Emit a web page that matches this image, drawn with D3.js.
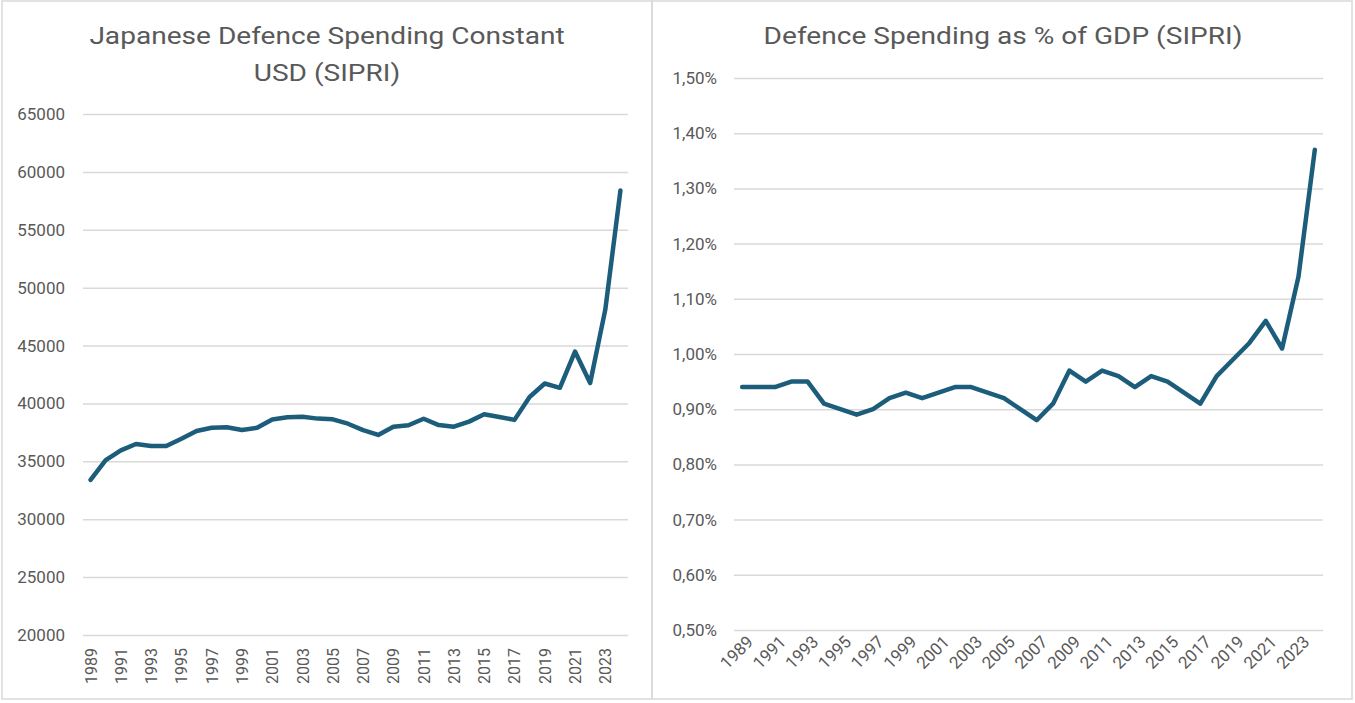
<!DOCTYPE html>
<html>
<head>
<meta charset="utf-8">
<script src="https://cdn.jsdelivr.net/npm/d3@7"></script>
<style>
    body { margin: 0; background: #fff; }
    .title { font-family: Roboto, sans-serif; fill: #595959; }
    .tick text { font-family: Roboto, sans-serif; fill: #595959; }
    .grid line { stroke: #d9d9d9; stroke-width: 1.5; }
</style>
</head>
<body>
<script>
// Years on the category axis (1989 - 2024)
var years = ["1989","1990","1991","1992","1993","1994","1995","1996","1997","1998",
    "1999","2000","2001","2002","2003","2004","2005","2006","2007","2008",
    "2009","2010","2011","2012","2013","2014","2015","2016","2017","2018",
    "2019","2020","2021","2022","2023","2024"];

// Japanese defence spending, constant USD (millions)
var spendingUsd = [33400, 35100, 35950, 36500, 36320, 36320, 36950, 37620, 37900, 37940,
    37700, 37900, 38620, 38800, 38850, 38690, 38630, 38250, 37700, 37280,
    37980, 38120, 38680, 38130, 37990, 38430, 39070, 38830, 38580, 40560,
    41720, 41350, 44480, 41760, 48100, 58400];

// Defence spending as % of GDP
var spendingGdp = [0.94, 0.94, 0.94, 0.95, 0.95, 0.91, 0.90, 0.89, 0.90, 0.92,
    0.93, 0.92, 0.93, 0.94, 0.94, 0.93, 0.92, 0.90, 0.88, 0.91,
    0.97, 0.95, 0.97, 0.96, 0.94, 0.96, 0.95, 0.93, 0.91, 0.96,
    0.99, 1.02, 1.06, 1.01, 1.14, 1.37];

// Tick values for the y axes
var usdTicks = [20000, 25000, 30000, 35000, 40000, 45000, 50000, 55000, 60000, 65000];
var gdpTicks = [0.5, 0.6, 0.7, 0.8, 0.9, 1.0, 1.1, 1.2, 1.3, 1.4, 1.5];

var lineColor = "#1c5d7b";

var svg = d3.select("body")
    .append("svg")
    .attr("width", 1355)
    .attr("height", 703);

// Panel frames
svg.append("rect")
    .attr("x", 2).attr("y", 1).attr("width", 650).attr("height", 698)
    .attr("fill", "none").attr("stroke", "#d9d9d9").attr("stroke-width", 1.5);
svg.append("rect")
    .attr("x", 652).attr("y", 1).attr("width", 700).attr("height", 698)
    .attr("fill", "none").attr("stroke", "#d9d9d9").attr("stroke-width", 1.5);

function drawChart(opts) {
    var x = d3.scaleBand()
        .domain(years)
        .range([opts.left, opts.right]);

    var y = d3.scaleLinear()
        .domain(opts.domain)
        .range([opts.bottom, opts.top]);

    // Gridlines + y labels
    var yAxis = d3.axisLeft(y)
        .tickValues(opts.ticks)
        .tickSize(-(opts.right - opts.left))
        .tickPadding(opts.labelGap)
        .tickFormat(opts.format);

    var g = svg.append("g")
        .attr("class", "grid")
        .attr("transform", "translate(" + opts.left + ",0)")
        .call(yAxis);
    g.select(".domain").remove();
    g.selectAll(".tick text").style("font-size", "17px");

    // X labels (every second year)
    var xAxis = d3.axisBottom(x)
        .tickValues(years.filter(function(d, i) { return i % 2 === 0; }))
        .tickSize(0)
        .tickPadding(0);

    var gx = svg.append("g")
        .attr("transform", "translate(0," + opts.bottom + ")")
        .call(xAxis);
    gx.select(".domain").remove();
    gx.selectAll(".tick text")
        .style("font-size", opts.labelSize)
        .attr("text-anchor", "end")
        .attr("dy", null)
        .attr("y", 0)
        .attr("transform", opts.labelRotate);

    // Series line
    var line = d3.line()
        .x(function(d, i) { return x(years[i]) + x.bandwidth() / 2; })
        .y(function(d) { return y(d); });

    svg.append("path")
        .datum(opts.values)
        .attr("fill", "none")
        .attr("stroke", lineColor)
        .attr("stroke-width", 4.5)
        .attr("stroke-linejoin", "round")
        .attr("stroke-linecap", "round")
        .attr("d", line);

    // Title (slightly widened, like the source rendering)
    var t = svg.append("text")
        .attr("class", "title")
        .attr("text-anchor", "middle")
        .attr("transform", "translate(" + opts.titleX + ",0) scale(1.17,1)")
        .style("font-size", "24px");
    opts.title.forEach(function(s, i) {
        t.append("tspan")
            .attr("x", 0)
            .attr("y", 44 + i * 37)
            .text(s);
    });
}

drawChart({
    left: 83, right: 628, top: 114, bottom: 635,
    domain: [20000, 65000],
    ticks: usdTicks,
    format: function(d) { return d; },
    labelGap: 18,
    labelSize: "16px",
    labelRotate: "translate(6,13) rotate(-90)",
    values: spendingUsd,
    title: ["Japanese Defence Spending Constant", "USD (SIPRI)"],
    titleX: 327
});

drawChart({
    left: 734, right: 1323, top: 78, bottom: 630,
    domain: [0.5, 1.5],
    ticks: gdpTicks,
    format: function(d) { return d3.format(".2f")(d).replace(".", ",") + "%"; },
    labelGap: 17,
    labelSize: "17px",
    labelRotate: "translate(12,13) rotate(-45)",
    values: spendingGdp,
    title: ["Defence Spending as % of GDP (SIPRI)"],
    titleX: 1003
});
</script>
</body>
</html>
